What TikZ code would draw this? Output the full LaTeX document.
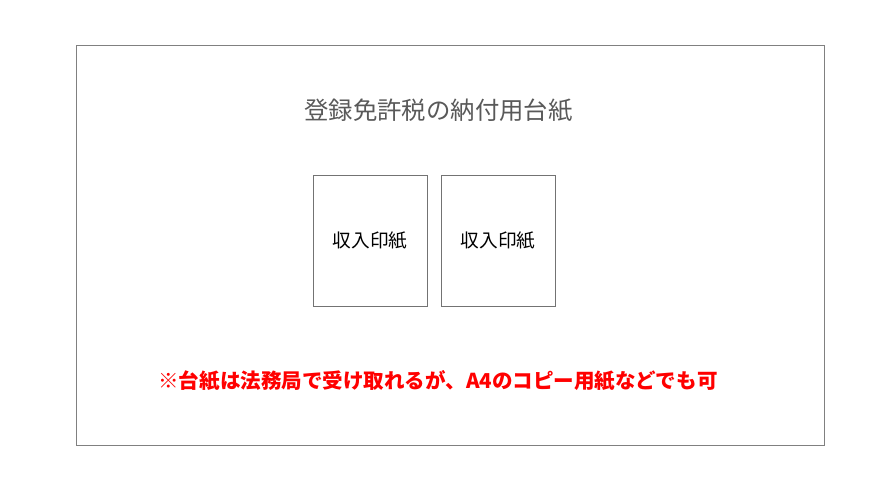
\documentclass[tikz,border=0pt]{standalone}
\usepackage{fontspec}
\newfontfamily\cjk{Noto Sans CJK JP}
\usetikzlibrary{positioning}

\begin{document}
\begin{tikzpicture}[
    x=0.75pt, y=-0.75pt,
    frame/.style={draw=black!50, line width=0.75pt, minimum width=748*0.75pt, minimum height=400*0.75pt, inner sep=0pt},
    stamp/.style={rectangle, draw=black!55, line width=0.75pt, minimum width=114*0.75pt, minimum height=131*0.75pt, inner sep=0pt, outer sep=0pt, font=\cjk\fontsize{14}{16}\selectfont},
    title/.style={text=black!65, font=\cjk\fontsize{18.3}{22}\selectfont},
    note/.style={text=red, font=\cjk\bfseries\fontsize{15.4}{18}\selectfont}
  ]
    \useasboundingbox (0,0) rectangle (889,489);
    % outer sheet
    \node[frame] (sheet) at (450,245) {};
    % title and the two stamps
    \node[title] (head) at (438.5,110) {登録免許税の納付用台紙};
    \node[stamp] (stampA) at (370,240.5) {収入印紙};
    \node[stamp, right=14*0.75pt of stampA] (stampB) {収入印紙};
    % remark
    \node[note] (remark) at (438,381) {※台紙は法務局で受け取れるが、A4のコピー用紙などでも可};
\end{tikzpicture}
\end{document}
